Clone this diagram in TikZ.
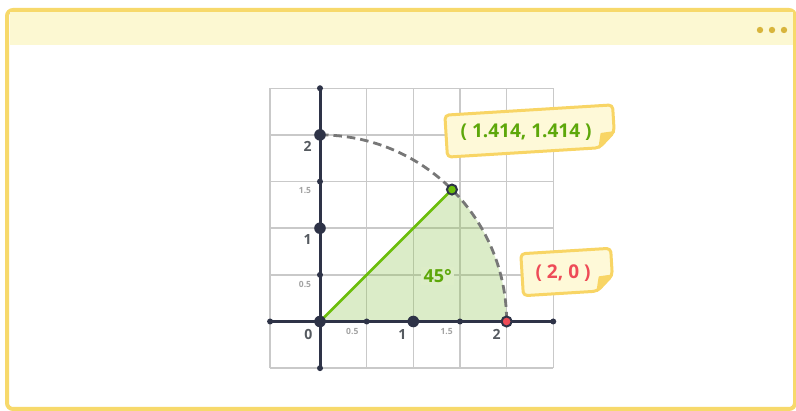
\documentclass[tikz,border=0pt]{standalone}
\usepackage{fontspec}
\setmainfont{Open Sans}
\definecolor{frameY}{HTML}{F7D96B}
\definecolor{barY}{HTML}{FCF8D2}
\definecolor{dotY}{HTML}{D8B53C}
\definecolor{gridG}{HTML}{C9C9C9}
\definecolor{axisD}{HTML}{2E3347}
\definecolor{arcG}{HTML}{777777}
\definecolor{lineG}{HTML}{6CBE0B}
\definecolor{textG}{HTML}{5DA70A}
\definecolor{redP}{HTML}{EE4B57}
\definecolor{noteF}{HTML}{FEF9D8}
\definecolor{noteB}{HTML}{F8D565}
\definecolor{labD}{HTML}{555A60}
\definecolor{labL}{HTML}{A3A3A3}
\definecolor{secG}{RGB}{139,195,74}
\definecolor{secBg}{RGB}{221,237,200}
\begin{document}
\begin{tikzpicture}[x=1pt,y=-1pt,
  intlab/.style={font=\fontsize{14}{15}\selectfont\bfseries, text=labD, inner sep=0pt},
  halflab/.style={font=\fontsize{8.5}{9}\selectfont\bfseries, text=labL, inner sep=0pt},
  notebox/.style={fill=noteF, draw=noteB, line width=3pt, rounded corners=4pt, line join=round},
  notefold/.style={fill=noteB, draw=noteB, line width=1.5pt, line join=round},
  notetext/.style={font=\fontsize{19}{21}\selectfont\bfseries, inner sep=0pt}]
\useasboundingbox (0,0) rectangle (796,411);
% window frame
\draw[frameY, line width=4pt, fill=white, rounded corners=6pt] (7,10) rectangle (795,409);
\fill[barY] (9.5,12) rectangle (793,45);
\foreach \i/\xx in {1/760,2/772,3/784}
  \fill[dotY] (\xx,30) circle (3.2pt);
% graph
\begin{scope}[shift={(320,321.5)}, x=93.3pt, y=93.3pt]
  \coordinate (O) at (0,0);
  \coordinate (P) at (1.4142,1.4142);
  \coordinate (A) at (2,0);
  \coordinate (B) at (0,2);
  % grid
  \foreach \g in {0.5,1,1.5,2,2.5}
    \draw[gridG, line width=1.4pt] (\g,-0.5) -- (\g,2.5);
  \draw[gridG, line width=1.4pt] (-0.535,-0.5) -- (-0.535,2.5);
  \foreach \g in {-0.5,0.5,1,1.5,2,2.5}
    \draw[gridG, line width=1.4pt] (-0.535,\g) -- (2.5,\g);
  % sector
  \fill[secG, opacity=0.3] (O) -- (A) arc (0:45:2) -- cycle;
  \draw[arcG, line width=2.8pt, dash pattern=on 8.5pt off 5pt] (B) arc (90:0:2);
  \draw[lineG, line width=2.5pt] (O) -- (P);
  % axes
  \draw[axisD, line width=3pt] (0,-0.5) -- (0,2.5);
  \draw[axisD, line width=3pt] (-0.535,0) -- (2.5,0);
  \foreach \p in {(0,-0.5),(0,2.5),(-0.535,0),(2.5,0),(0.5,0),(1.5,0),(0,0.5),(0,1.5)}
    \fill[axisD] \p circle (3pt);
  \foreach \p in {(0,0),(1,0),(0,1),(0,2)}
    \fill[axisD] \p circle (5.8pt);
  \filldraw[fill=redP, draw=axisD, line width=2pt] (A) circle (5pt);
  \filldraw[fill=lineG, draw=axisD, line width=2pt] (P) circle (5pt);
\end{scope}
% axis labels
\node[intlab] (ly2) at (307.7,146.3) {2};
\node[halflab] (ly15) at (305,191) {1.5};
\node[intlab] (ly1) at (307.5,240) {1};
\node[halflab] (ly05) at (305,284) {0.5};
\node[intlab] (l0) at (308.3,334.3) {0};
\node[halflab] (lx05) at (352.3,331.7) {0.5};
\node[intlab] (lx1) at (402.3,334.3) {1};
\node[halflab] (lx15) at (446.7,331.7) {1.5};
\node[intlab] (lx2) at (496.7,334.3) {2};
\node[font=\fontsize{18}{20}\selectfont\bfseries, text=textG, fill=secBg, inner sep=2.5pt] (ang) at (437.7,275.7) {45°};
% note 1
\begin{scope}[shift={(530,131)}, rotate=3.5]
  \draw[notebox] (-84,-21) -- (84,-21) -- (84,6) -- (68,21) -- (-84,21) -- cycle;
  \draw[notefold] (84,6) -- (68,21) -- (71,7) -- cycle;
  \node[notetext, text=textG] (n1) at (-4,1) {( 1.414, 1.414 )};
\end{scope}
% note 2
\begin{scope}[shift={(567,272)}, rotate=3.5]
  \draw[notebox] (-45,-21) -- (45,-21) -- (45,6) -- (29,21) -- (-45,21) -- cycle;
  \draw[notefold] (45,6) -- (29,21) -- (32,7) -- cycle;
  \node[notetext, text=redP] (n2) at (-4,1) {( 2, 0 )};
\end{scope}
\end{tikzpicture}
\end{document}
